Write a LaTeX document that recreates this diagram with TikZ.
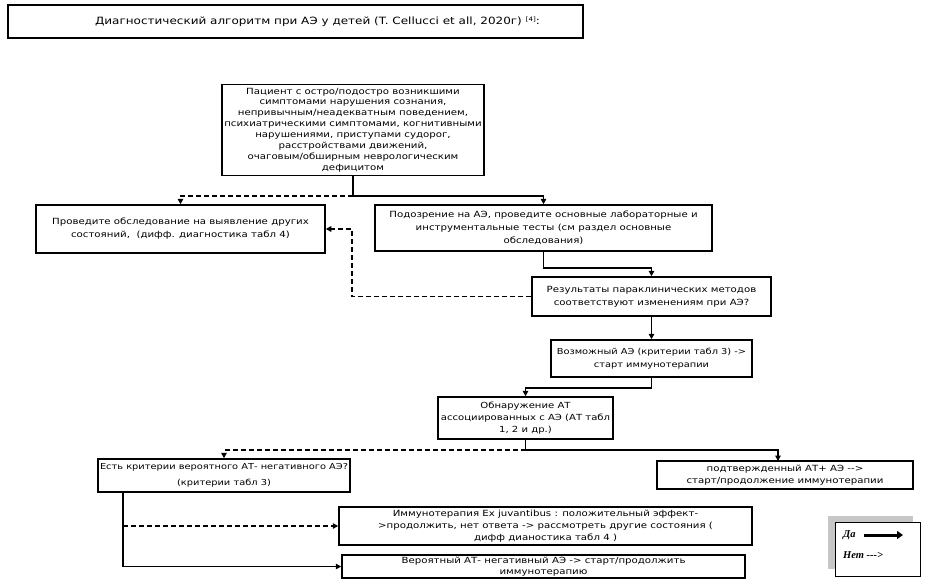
\documentclass[tikz,border=0pt]{standalone}
\usepackage{fontspec}
\setmainfont[FakeStretch=1.2]{DejaVu Sans}
\newfontfamily\legfont{Liberation Serif}
\usetikzlibrary{arrows.meta}
\begin{document}
\begin{tikzpicture}[x=1pt,y=-1pt,
  box/.style={draw, line width=1.5pt, rectangle, inner sep=1pt, align=center,
    font=\fontsize{8.5}{13}\selectfont},
  arr/.style={line width=1.6pt, -{Triangle[length=5.5pt,width=5.5pt]}},
  darr/.style={arr, dash pattern=on 5pt off 3pt}]
\useasboundingbox (0,0) rectangle (930,582);
\fill[white] (0,0) rectangle (930,582);

\node[draw, line width=2.4pt, minimum width=575pt, minimum height=33pt, inner sep=0pt,
  font=\fontsize{10}{12}\selectfont] (title) at (295.5,21.5)
  {\hspace*{44pt}Диагностический алгоритм при АЭ у детей (T. Cellucci et all, 2020г) \raisebox{0.5ex}{\fontsize{6}{7}\selectfont [4]}:};

\node[box, minimum width=262pt, minimum height=91pt, inner sep=0pt, font=\fontsize{8.5}{10.9}\selectfont] (b1) at (353,130)
  {Пациент с остро/подостро возникшими\\симптомами нарушения сознания,\\непривычным/неадекватным поведением,\\психиатрическими симптомами, когнитивными\\нарушениями, приступами судорог,\\расстройствами движений,\\очаговым/обширным неврологическим\\дефицитом};

\node[box, minimum width=289pt, minimum height=48pt] (b2) at (180.5,229)
  {Проведите обследование на выявление других\\состояний,\ \ (дифф. диагностика табл 4)};

\node[box, minimum width=337pt, minimum height=46pt] (b3) at (543.5,228)
  {Подозрение на АЭ, проведите основные лабораторные и\\инструментальные тесты (см раздел основные\\обследования)};

\node[box, minimum width=239pt, minimum height=39pt] (b4) at (651.5,296.5)
  {Результаты параклинических методов\\соответствуют изменениям при АЭ?};

\node[box, minimum width=201pt, minimum height=37pt, font=\fontsize{8.2}{13}\selectfont] (b5) at (651.5,358.5)
  {Возможный АЭ (критерии табл 3) ->\\старт иммунотерапии};

\node[box, minimum width=175pt, minimum height=42pt, inner sep=0pt, font=\fontsize{8.4}{12}\selectfont] (b6) at (525.5,418)
  {Обнаружение АТ\\ассоциированных с АЭ (АТ табл\\1, 2 и др.)};

\node[box, minimum width=252pt, minimum height=33pt, inner sep=0pt, font=\fontsize{8.2}{15.5}\selectfont] (b7) at (224,475.5)
  {Есть критерии вероятного АТ- негативного АЭ?\\(критерии табл 3)};

\node[box, minimum width=256pt, minimum height=28pt, font=\fontsize{8.5}{12}\selectfont] (b8) at (785,475)
  {подтвержденный АТ+ АЭ -{}->\\старт/продолжение иммунотерапии};

\node[box, minimum width=413pt, minimum height=38pt, font=\fontsize{8.5}{12}\selectfont] (b9) at (545.5,526)
  {Иммунотерапия Ex juvantibus : положительный эффект-\\>продолжить, нет ответа -> рассмотреть другие состояния (\\дифф дианостика табл 4 )};

\node[box, minimum width=403pt, minimum height=23pt, inner sep=0pt, font=\fontsize{8.5}{11}\selectfont] (b10) at (543.5,566.5)
  {Вероятный АТ- негативный АЭ -> старт/продолжить\\иммунотерапию};

% connectors
\coordinate (j1) at (353,196);
\draw[arr] (b1.south) -- (j1) -| (b3.north);
\draw[darr] (j1) -| (b2.north);

\coordinate (j2) at (543.5,268);
\draw[arr] (b3.south) -- (j2) -| (b4.north);

\coordinate (j3) at (352,229);
\draw[darr] (b4.west) -| (j3) -- (b2.east);

\draw[arr] (b4.south) -- (b5.north);

\coordinate (j4) at (651.5,388);
\draw[arr] (b5.south) -- (j4) -| (b6.north);

\coordinate (j5) at (525.5,450);
\coordinate (j6) at (778,461);
\draw[line width=1.6pt] (b6.south) -- (j5);
\draw[darr] (j5) -| (b7.north);
\draw[arr] (j5) -| (j6);

\coordinate (k1) at (123,526);
\draw[darr] (k1) -- (b9.west);
\draw[arr] (k1 |- b7.south) |- (b10.west);

% legend
\fill[black!22] (828,516) rectangle (913,569);
\node[draw, fill=white, line width=0.7pt, minimum width=85pt, minimum height=54pt, inner sep=0pt] (leg) at (877.5,549) {};
\node[anchor=west, inner sep=0pt, font=\legfont\bfseries\itshape\fontsize{10.5}{12}\selectfont] (da) at (843,535) {Да};
\coordinate (daend) at (903,535);
\draw[line width=3pt, -{Triangle[length=6pt,width=8pt]}] ([xshift=8pt]da.east) -- (daend);
\node[anchor=west, inner sep=0pt, font=\legfont\bfseries\itshape\fontsize{10.5}{12}\selectfont] (net) at (843,555) {Нет -{}-{}->};
\end{tikzpicture}
\end{document}
